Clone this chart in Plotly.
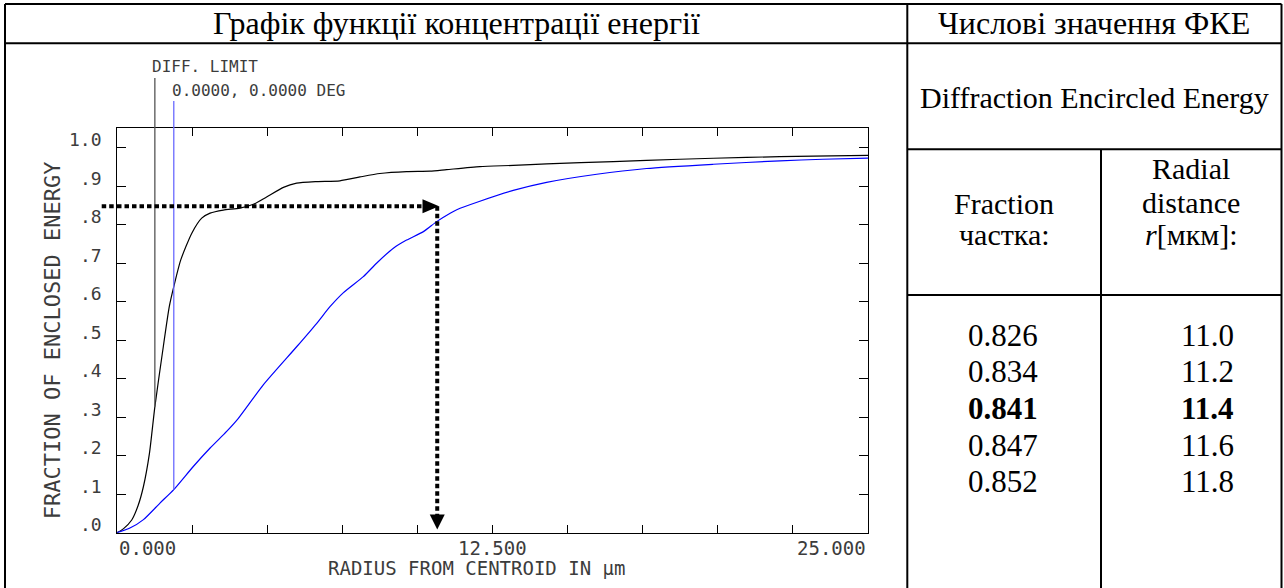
import plotly.graph_objects as go

W, H = 1284, 588

# ---------------- data ----------------
diff_radius = [0.0, 0.21, 0.49, 0.70, 0.88, 1.08, 1.26, 1.51, 1.74, 1.89, 2.12, 2.49, 2.82,
               3.10, 3.54, 4.09, 4.54, 4.98, 5.54, 5.98, 6.65, 7.42, 8.09, 8.75, 9.64,
               10.42, 10.97, 12.08, 13.19, 14.30, 16.52, 18.74, 20.96, 23.18, 25.0]
diff_fraction = [0.0, 0.010, 0.033, 0.070, 0.120, 0.206, 0.327, 0.466, 0.587, 0.639, 0.708,
                 0.778, 0.817, 0.830, 0.838, 0.843, 0.853, 0.872, 0.897, 0.908, 0.912,
                 0.914, 0.924, 0.933, 0.938, 0.939, 0.943, 0.951, 0.954, 0.958, 0.964,
                 0.970, 0.975, 0.978, 0.980]

field_radius = [0.0, 0.43, 0.88, 1.43, 1.89, 2.54, 3.10, 3.65, 4.04, 4.87, 5.98, 6.65, 7.09,
                7.53, 8.20, 8.64, 9.20, 9.64, 10.20, 10.64, 11.09, 11.31, 12.08, 13.19,
                14.30, 15.97, 17.63, 19.85, 22.07, 23.50, 25.0]
field_fraction = [0.0, 0.012, 0.034, 0.077, 0.112, 0.172, 0.220, 0.263, 0.297, 0.384, 0.483,
                  0.544, 0.587, 0.623, 0.665, 0.700, 0.739, 0.760, 0.782, 0.808, 0.830, 0.839,
                  0.861, 0.889, 0.910, 0.931, 0.946, 0.957, 0.966, 0.970, 0.973]

legend_labels = ["DIFF. LIMIT", "0.0000, 0.0000 DEG"]
legend_colors = ["#555555", "#6a6aff"]
legend_marker_x = [1.26, 1.89]          # where the legend pointer lines sit
legend_marker_y = [0.327, 0.112]        # where they meet their curve

y_tick_vals = [0.0, 0.1, 0.2, 0.3, 0.4, 0.5, 0.6, 0.7, 0.8, 0.9, 1.0]
y_tick_text = [".0", ".1", ".2", ".3", ".4", ".5", ".6", ".7", ".8", ".9", "1.0"]
x_tick_vals = [0, 2.5, 5, 7.5, 10, 12.5, 15, 17.5, 20, 22.5, 25]
x_label_vals = [0, 12.5, 25]
x_label_text = ["0.000", "12.500", "25.000"]

marked_fraction = 0.848     # dotted arrow level
marked_radius = 10.66       # dotted arrow radius
h_arrow_tip = 10.72
h_arrow_base = 10.16
v_arrow_base = 0.046
v_arrow_tip = 0.008

table_fraction = ["0.826", "0.834", "0.841", "0.847", "0.852"]
table_radius = ["11.0", "11.2", "11.4", "11.6", "11.8"]
highlight_row = 2

title_left = "Графік функції концентрації енергії"
title_right = "Числові значення ФКЕ"
subtitle_right = "Diffraction Encircled Energy"

# ---------------- geometry helpers ----------------
def fx(px):
    return px / W

def fy(py):
    return 1 - py / H

PL, PR, PT, PB = 117, 868, 128, 532.7
X_MAX = 25.0
Y_MAX = (PB - PT) / 385.0

MONO = "DejaVu Sans Mono"
SERIF = "Liberation Serif"
GREY = "#3c3c3c"

fig = go.Figure()
fig.add_trace(go.Scatter(x=diff_radius, y=diff_fraction, mode="lines",
                         line=dict(color="black", width=1.2, shape="spline", smoothing=0.6),
                         hoverinfo="skip", showlegend=False))
fig.add_trace(go.Scatter(x=field_radius, y=field_fraction, mode="lines",
                         line=dict(color="#0000ff", width=1.2, shape="spline", smoothing=0.6),
                         hoverinfo="skip", showlegend=False))

shapes = []
ann = []

# legend pointer lines (inside plot + above plot)
legend_top_px = [78, 101]
for xv, yv, col, tp in zip(legend_marker_x, legend_marker_y, legend_colors, legend_top_px):
    shapes.append(dict(type="line", xref="x", yref="y", x0=xv, x1=xv, y0=yv, y1=Y_MAX,
                       line=dict(color=col, width=1.3)))
    shapes.append(dict(type="line", xref="x", yref="paper", x0=xv, x1=xv,
                       y0=fy(PT), y1=fy(tp), line=dict(color=col, width=1.3)))

legend_text_pos = [(150, 67), (170, 90)]
for lab, (lx, ly) in zip(legend_labels, legend_text_pos):
    ann.append(dict(text=lab, xref="paper", yref="paper", x=fx(lx), y=fy(ly),
                    xanchor="left", yanchor="middle", showarrow=False,
                    font=dict(family=MONO, size=16, color=GREY)))

# dotted arrows
DOT = "4.5px,3px"
shapes.append(dict(type="line", xref="paper", yref="y", x0=fx(101.7), x1=fx(PL),
                   y0=marked_fraction, y1=marked_fraction,
                   line=dict(color="black", width=4, dash=DOT)))
shapes.append(dict(type="line", xref="x", yref="y", x0=0, x1=h_arrow_base,
                   y0=marked_fraction, y1=marked_fraction,
                   line=dict(color="black", width=4, dash=DOT)))
shapes.append(dict(type="line", xref="x", yref="y", x0=marked_radius, x1=marked_radius,
                   y0=marked_fraction, y1=v_arrow_base,
                   line=dict(color="black", width=4, dash=DOT)))
shapes.append(dict(type="path", xref="x", yref="y", xsizemode="pixel", ysizemode="pixel",
                   xanchor=h_arrow_tip, yanchor=marked_fraction,
                   path="M0,0 L-16.5,7 L-16.5,-7 Z", fillcolor="black", line=dict(width=0)))
shapes.append(dict(type="path", xref="x", yref="y", xsizemode="pixel", ysizemode="pixel",
                   xanchor=marked_radius, yanchor=v_arrow_tip,
                   path="M0,0 L-7.5,15 L7.5,15 Z", fillcolor="black", line=dict(width=0)))

# axis labels
for v, t in zip(y_tick_vals, y_tick_text):
    ann.append(dict(text=t, xref="paper", yref="y", x=fx(104), y=v, yshift=8,
                    xanchor="right", yanchor="middle", showarrow=False,
                    font=dict(family=MONO, size=18, color=GREY)))
anchors = ["left", "center", "right"]
for v, t, a in zip(x_label_vals, x_label_text, anchors):
    ann.append(dict(text=t, xref="x", yref="paper", x=v, y=fy(548),
                    xanchor=a, yanchor="middle", showarrow=False,
                    font=dict(family=MONO, size=19, color=GREY)))
ann.append(dict(text="RADIUS FROM CENTROID IN µm", xref="paper", yref="paper",
                x=fx(476), y=fy(568), xanchor="center", yanchor="middle", showarrow=False,
                font=dict(family=MONO, size=19, color=GREY)))
ann.append(dict(text="FRACTION OF ENCLOSED ENERGY", xref="paper", yref="y",
                x=fx(52), y=0.5, xanchor="center", yanchor="middle", textangle=-90,
                showarrow=False, font=dict(family=MONO, size=22, color=GREY)))

# ---------------- table frame ----------------
LW = 2
def hline(y, x0, x1):
    shapes.append(dict(type="line", xref="paper", yref="paper", x0=fx(x0), x1=fx(x1),
                       y0=fy(y), y1=fy(y), line=dict(color="black", width=LW)))

def vline(x, y0, y1):
    shapes.append(dict(type="line", xref="paper", yref="paper", x0=fx(x), x1=fx(x),
                       y0=fy(y0), y1=fy(y1), line=dict(color="black", width=LW)))

hline(4, 5, 1281.5)
hline(43.3, 5, 1281.5)
hline(149.3, 907.3, 1281.5)
hline(295, 907.3, 1281.5)
vline(5, 4, 588)
vline(907.3, 4, 588)
vline(1281.5, 4, 588)
vline(1101, 149.3, 588)

def txt(s, x, y, size=30):
    ann.append(dict(text=s, xref="paper", yref="paper", x=fx(x), y=fy(y),
                    xanchor="center", yanchor="middle", showarrow=False,
                    font=dict(family=SERIF, size=size, color="black")))

txt(title_left, 456, 23, 32)
txt(title_right, 1094, 23, 32)
txt(subtitle_right, 1094, 98, 30)
txt("Fraction", 1004, 203)
txt("частка:", 1004, 234)
txt("Radial", 1191, 169)
txt("distance", 1191, 202)
txt("<i>r</i>[мкм]:", 1191, 234)
for i, (f, r) in enumerate(zip(table_fraction, table_radius)):
    yy = 335 + 36.7 * i
    if i == highlight_row:
        f, r = "<b>" + f + "</b>", "<b>" + r + "</b>"
    txt(f, 1003, yy, 31)
    txt(r, 1207.5, yy, 31)

axis_common = dict(showline=True, linecolor="black", linewidth=1, mirror="ticks",
                   ticks="inside", tickcolor="black", showgrid=False, zeroline=False,
                   showticklabels=False, fixedrange=True)

fig.update_layout(
    width=W, height=H,
    margin=dict(l=0, r=0, t=0, b=0, pad=0),
    paper_bgcolor="white", plot_bgcolor="white",
    xaxis=dict(domain=[fx(PL), fx(PR)], range=[0, X_MAX], tickvals=x_tick_vals,
               ticklen=8, **axis_common),
    yaxis=dict(domain=[fy(PB), fy(PT)], range=[0, Y_MAX], tickvals=y_tick_vals,
               ticklen=9, **axis_common),
    shapes=shapes,
    annotations=ann,
    showlegend=False,
)

fig.write_html("out.html", config={"displayModeBar": False},
               post_script="document.body.style.margin='0';")
